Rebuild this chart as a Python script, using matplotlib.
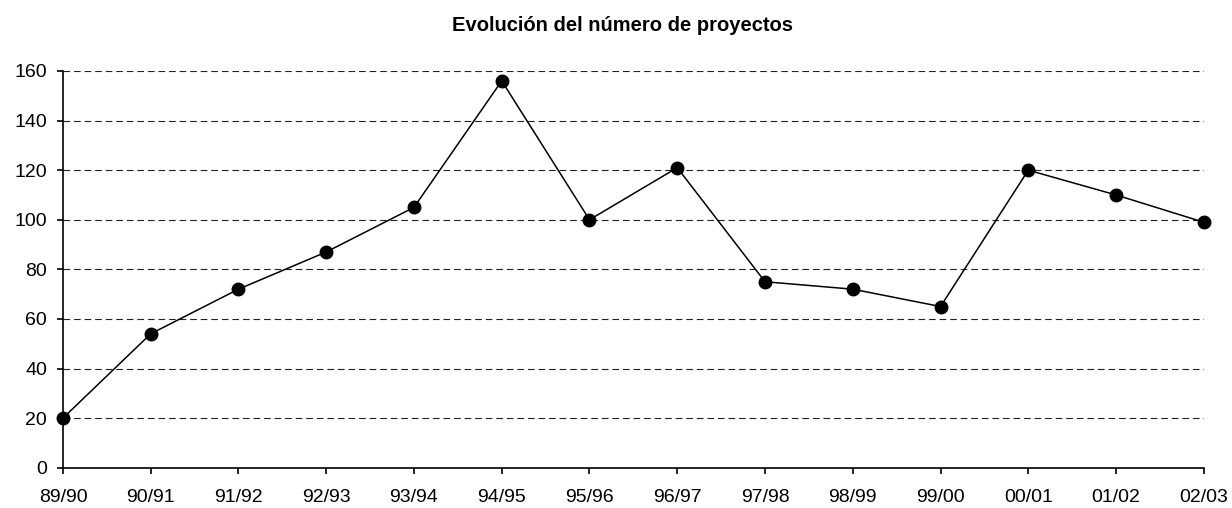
import matplotlib.pyplot as plt

plt.rcParams['font.family'] = ['Liberation Sans', 'DejaVu Sans']

# academic years and number of projects
cursos = ['89/90', '90/91', '91/92', '92/93', '93/94', '94/95', '95/96',
          '96/97', '97/98', '98/99', '99/00', '00/01', '01/02', '02/03']
proyectos = [20, 54, 72, 87, 105, 156, 100, 121, 75, 72, 65, 120, 110, 99]
y_ticks = [0, 20, 40, 60, 80, 100, 120, 140, 160]

fig = plt.figure(figsize=(12.32, 5.08), dpi=100)
ax = fig.add_axes([0.0511, 0.0793, 0.926, 0.781])

x = range(len(cursos))
ax.plot(x, proyectos, color='black', linewidth=1.1, marker='o',
        markersize=9, markerfacecolor='black', zorder=3, clip_on=False)

ax.set_xlim(0, len(cursos) - 1)
ax.set_ylim(0, 160)
ax.set_xticks(list(x))
ax.set_xticklabels(cursos)
ax.set_yticks(y_ticks)

for v in y_ticks[1:]:
    ax.axhline(v, color='#222222', linewidth=0.8, dashes=(6, 3.5), zorder=1)

for side in ['top', 'right']:
    ax.spines[side].set_visible(False)
for side in ['left', 'bottom']:
    ax.spines[side].set_linewidth(1.2)

ax.tick_params(axis='both', direction='out', length=4.5, width=1.2,
               labelsize=14, colors='black')
ax.tick_params(axis='x', pad=10.5)
ax.tick_params(axis='y', pad=7)

fig.text(0.505, 0.939, 'Evolución del número de proyectos', ha='center',
         va='baseline', fontsize=14.5, fontweight='bold')

fig.savefig('out.png', dpi=100)
